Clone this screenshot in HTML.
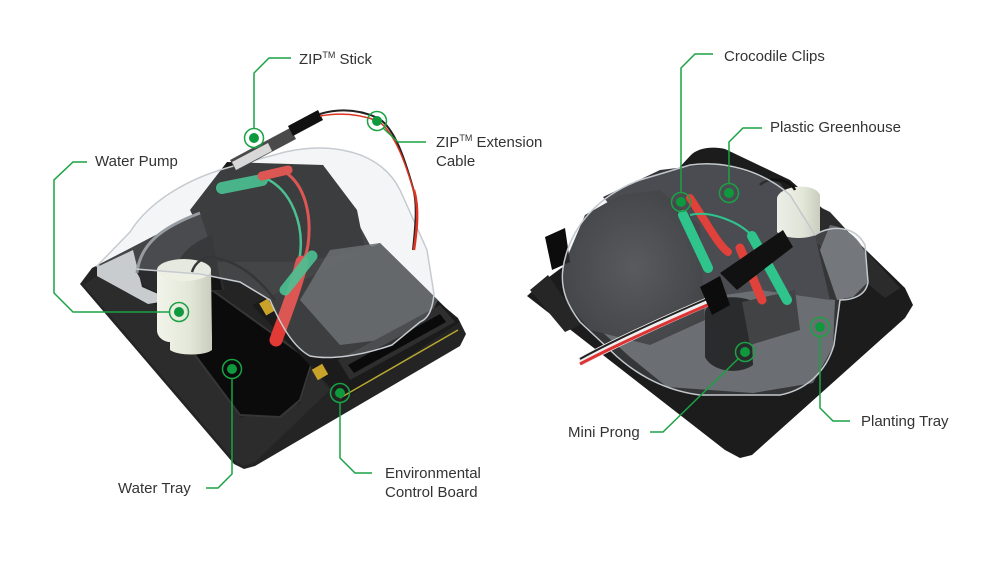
<!DOCTYPE html>
<html><head><meta charset="utf-8"><style>
html,body{margin:0;padding:0;background:#fff;}
svg{display:block;}
text{font-family:"Liberation Sans",sans-serif;font-size:15px;fill:#333;}
</style></head><body>
<svg width="1002" height="569" viewBox="0 0 1002 569" xmlns="http://www.w3.org/2000/svg">
<defs>
<linearGradient id="pump" x1="0" y1="0" x2="1" y2="0"><stop offset="0" stop-color="#f2f4ea"/><stop offset="0.6" stop-color="#e3e7d8"/><stop offset="1" stop-color="#c9cdbe"/></linearGradient>
<radialGradient id="pcb" cx="0.5" cy="0.5" r="0.6"><stop offset="0" stop-color="#45474a"/><stop offset="1" stop-color="#2a2b2d"/></radialGradient>
</defs>
<rect width="1002" height="569" fill="#fff"/>

<!-- LEFT DEVICE -->
<polygon points="80,284 92,268 200,212 275,175 340,190 370,245 458,318 466,334 460,346 255,466 244,469 234,464" fill="#242424"/>
<polygon points="84,285 97,276 150,300 200,345 240,418 300,404 312,368 330,390 255,462 244,466 236,462" fill="#2c2c2c"/>
<path d="M190,210 L227,162 L323,165 L357,210 L365,250 L300,262 L215,262 Z" fill="#1a1a1a"/>
<polygon points="205,285 312,362 300,400 280,417 240,415 195,355" fill="#0b0b0b" stroke="#363636" stroke-width="2"/>
<polygon points="97,267 133,250 142,287 172,300 148,304 97,276" fill="#c9cccf"/>
<path d="M137,273 C140,245 160,228 200,213 L225,290 L172,298 L145,287 Z" fill="#2a2b2d"/>
<path d="M137,273 C140,245 160,228 200,213" stroke="#8a9096" stroke-width="3" fill="none"/>
<path d="M173,290 C172,262 185,245 212,235 L222,290 Z" fill="#141414"/>
<polygon points="252,305 380,243 460,322 343,400" fill="#1b1b1b"/>
<polygon points="330,250 380,243 438,300 420,335 340,345 300,300" fill="#55585b" opacity="0.85"/>
<polyline points="340,398 458,330" stroke="#b8a830" stroke-width="1.5" fill="none"/>
<polygon points="338,360 440,305 455,322 350,380" fill="#2e2e2e"/>
<polygon points="348,365 440,314 446,322 354,373" fill="#0a0a0a"/>
<rect x="314" y="366" width="12" height="12" fill="#c9a22a" transform="rotate(-30 320 372)"/>
<rect x="262" y="300" width="10" height="14" fill="#c9a22a" transform="rotate(-30 267 307)"/>
<path d="M157,270 L157,330 C157,338 165,342 170,342 L170,350 C178,356 205,356 212,350 L212,338 L211,270 Z" fill="url(#pump)"/>
<ellipse cx="184" cy="270" rx="27" ry="11" fill="#eef0e4"/>
<path d="M192,272 C195,262 205,255 215,258 C240,262 260,280 275,300" stroke="#111" stroke-width="2.5" fill="none"/>
<path d="M285,172 C305,185 312,215 308,245 C305,262 300,270 298,278" stroke="#e23a35" stroke-width="3" fill="none"/>
<path d="M265,178 C292,190 304,225 300,255 C297,270 292,280 288,290" stroke="#2cbf84" stroke-width="2.5" fill="none"/>
<path d="M222,188 L262,180" stroke="#2cbf84" stroke-width="12" stroke-linecap="round" opacity="0.9"/>
<path d="M262,176 L288,170" stroke="#e23a35" stroke-width="9" stroke-linecap="round"/>
<path d="M302,262 C295,290 285,315 276,340" stroke="#e23a35" stroke-width="13" fill="none" stroke-linecap="round"/>
<path d="M312,256 L285,290" stroke="#2cbf84" stroke-width="11" stroke-linecap="round" opacity="0.9"/>
<path d="M97,266 L130,232 C150,200 190,178 230,167 L285,152 C330,142 380,150 400,190 L427,250 L434,294 C432,315 425,320 420,322 L392,345 C360,356 330,360 310,356 C295,348 283,330 270,300 L240,282 L200,274 Z" fill="rgba(200,206,212,0.2)" stroke="#c6cbd0" stroke-width="1.5"/>
<polygon points="230,160 290,128 296,139 236,171" fill="#4a4a4a"/>
<polygon points="232,162 268,143 272,151 236,170" fill="#d8d8d8"/>
<polygon points="288,126 318,110 323,120 293,136" fill="#111"/>
<path d="M320,114 C340,108 360,110 378,118 C395,128 405,160 413,188 C418,205 415,230 413,250" stroke="#222" stroke-width="2" fill="none"/>
<path d="M320,116 C342,112 362,115 378,121 C395,132 406,165 414,192" stroke="#d32" stroke-width="1.5" fill="none"/>
<path d="M414,190 C420,210 416,235 414,250" stroke="#d32" stroke-width="2.5" fill="none"/>

<!-- RIGHT DEVICE -->
<path d="M527,296 L545,280 L640,210 L690,156 C697,148 712,146 725,149 L790,180 L830,215 L905,288 L913,305 L905,318 L752,455 L740,458 L725,450 Z" fill="#1c1c1c"/>
<polygon points="785,190 830,212 900,288 885,298 845,265 800,230" fill="#2b2b2b"/>
<path d="M600,330 L640,300 L760,290 L835,300 L833,347 L813,383 L753,393 L667,387 L630,357 Z" fill="#5b5e62"/>
<path d="M830,225 C850,228 867,245 867,265 L867,283 L853,297 L837,300 L820,250 Z" fill="#66696d"/>
<path d="M603,197 L660,170 L720,163 L780,183 L813,227 L830,300 L760,290 L690,300 L640,240 Z" fill="#34363a"/>
<polygon points="563,267 585,215 620,195 660,190 700,225 705,320 650,345 590,330 565,300" fill="url(#pcb)"/>
<polygon points="545,237 565,228 570,262 552,270" fill="#0c0c0c"/>
<polygon points="530,290 548,275 565,300 580,325 565,332" fill="#262626"/>
<path d="M705,312 C708,298 730,294 750,300 L753,365 C740,375 712,372 705,357 Z" fill="#0f0f0f"/>
<polygon points="742,302 795,290 800,330 750,345" fill="#2b2b2b"/>
<path d="M777,198 C780,185 815,182 820,195 L820,232 C812,240 785,240 777,232 Z" fill="url(#pump)"/>
<path d="M760,185 C770,175 790,180 795,190" stroke="#111" stroke-width="2.5" fill="none"/>
<path d="M563,268 C570,225 600,195 640,180 L690,165 C722,160 762,170 790,195 L815,235 C830,225 855,225 865,245 L868,282 C866,296 852,300 840,300 L834,345 C826,372 806,390 780,395 L700,395 C660,390 630,370 610,350 L580,322 C568,306 560,290 563,268 Z" fill="rgba(200,206,212,0.15)" stroke="#c3c8cd" stroke-width="1.5"/>
<path d="M580,362 C620,340 670,318 712,300" stroke="#eee" stroke-width="9" fill="none"/>
<path d="M580,364 C620,343 670,321 712,303" stroke="#d33" stroke-width="3" fill="none"/>
<path d="M580,359 C620,337 670,315 712,297" stroke="#222" stroke-width="2" fill="none"/>
<path d="M690,198 C705,220 718,245 728,252" stroke="#e0413a" stroke-width="8" fill="none" stroke-linecap="round"/>
<path d="M740,248 L762,300" stroke="#e0413a" stroke-width="9" stroke-linecap="round"/>
<path d="M683,215 L708,268" stroke="#2ec48c" stroke-width="10" stroke-linecap="round"/>
<path d="M752,236 L787,300" stroke="#2ec48c" stroke-width="10" stroke-linecap="round"/>
<path d="M690,215 C710,210 740,222 752,236" stroke="#2ec48c" stroke-width="2" fill="none"/>
<polygon points="720,273 783,230 793,247 737,290" fill="#111"/>
<polygon points="700,287 720,276 730,305 712,315" fill="#0c0c0c"/>

<!-- CONNECTORS -->
<g stroke="#1aa244" stroke-width="1.5" fill="none">
<polyline points="291,58 269,58 254,73 254,129"/>
<circle cx="254" cy="138" r="9.5"/>
<polyline points="383,128 398,142 426,142"/>
<circle cx="377" cy="121" r="9.5"/>
<polyline points="87,162 73,162 54,180 54,293 73,312 170,312"/>
<circle cx="179" cy="312" r="9.5"/>
<polyline points="206,488 218,488 232,474 232,378"/>
<circle cx="232" cy="369" r="9.5"/>
<polyline points="340,402 340,458 355,473 372,473"/>
<circle cx="340" cy="393" r="9.5"/>
<polyline points="713,54 695,54 681,68 681,193"/>
<circle cx="681" cy="202" r="9.5"/>
<polyline points="762,128 743,128 729,142 729,184"/>
<circle cx="729" cy="193" r="9.5"/>
<polyline points="650,432 663,432 739,358"/>
<circle cx="745" cy="352" r="9.5"/>
<polyline points="820,336 820,408 833,421 850,421"/>
<circle cx="820" cy="327" r="9.5"/>
</g>
<g fill="#0e9a3c">
<circle cx="254" cy="138" r="5"/>
<circle cx="377" cy="121" r="5"/>
<circle cx="179" cy="312" r="5"/>
<circle cx="232" cy="369" r="5"/>
<circle cx="340" cy="393" r="5"/>
<circle cx="681" cy="202" r="5"/>
<circle cx="729" cy="193" r="5"/>
<circle cx="745" cy="352" r="5"/>
<circle cx="820" cy="327" r="5"/>
</g>

<!-- LABELS -->
<text x="299" y="64">ZIP<tspan font-size="9" dy="-6">TM</tspan><tspan dy="6"> Stick</tspan></text>
<text x="436" y="147">ZIP<tspan font-size="9" dy="-6">TM</tspan><tspan dy="6"> Extension</tspan></text>
<text x="436" y="166">Cable</text>
<text x="95" y="166">Water Pump</text>
<text x="118" y="493">Water Tray</text>
<text x="385" y="478">Environmental</text>
<text x="385" y="497">Control Board</text>
<text x="724" y="61">Crocodile Clips</text>
<text x="770" y="132">Plastic Greenhouse</text>
<text x="568" y="437">Mini Prong</text>
<text x="861" y="426">Planting Tray</text>
</svg>
</body></html>
